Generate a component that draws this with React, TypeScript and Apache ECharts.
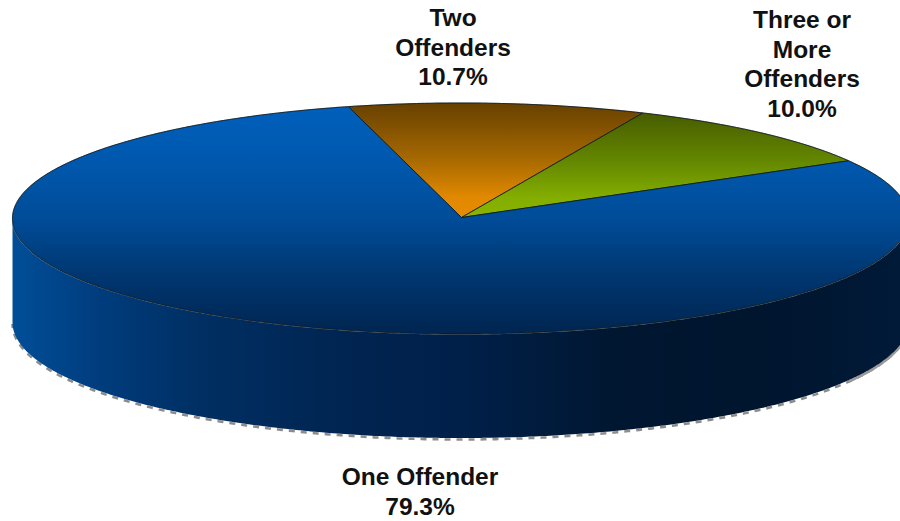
import React, { useEffect, useRef } from "react";
import * as echarts from "echarts";

const sliceNames = ["Two Offenders", "Three or More Offenders", "One Offender"];
const sliceValues = [10.7, 10.0, 79.3];
const labelLines = [["Two", "Offenders"], ["Three or", "More", "Offenders"], ["One Offender"]];

const CX = 460.5, CY = 218.5, RX = 448, RY = 115.5, DEPTH = 104;
const START_DEG = -14.5;

const labelAnchors = [
  { x: 453, y: 3 },
  { x: 802, y: 5 },
  { x: 420, y: 462 },
];

const vGrad = (y1: number, y2: number, stops: [number, string][]) => ({
  type: "linear", global: true, x: 0, y: y1, x2: 0, y2,
  colorStops: stops.map(([offset, color]) => ({ offset, color })),
});
const topFills = [
  vGrad(103, 217, [[0, "#674000"], [0.5, "#a86a00"], [0.82, "#e08800"], [1, "#e88c00"]]),
  vGrad(111, 217, [[0, "#465a00"], [0.5, "#668a00"], [0.82, "#84ae00"], [1, "#8ab400"]]),
  vGrad(103, 335, [[0, "#0060bc"], [0.25, "#0058ae"], [0.5, "#004c98"], [0.75, "#00366f"], [1, "#002550"]]),
];
const sideFill = {
  type: "linear", global: true, x: 13, y: 0, x2: 908, y2: 0,
  colorStops: [
    { offset: 0, color: "#004e98" },
    { offset: 0.1, color: "#003c7c" },
    { offset: 0.21, color: "#002f63" },
    { offset: 0.38, color: "#002450" },
    { offset: 0.5, color: "#00204a" },
    { offset: 0.67, color: "#001731" },
    { offset: 0.83, color: "#00152e" },
    { offset: 1, color: "#001a38" },
  ],
};

const pt = (deg: number, dy = 0): [number, number] => {
  const a = (deg * Math.PI) / 180;
  return [CX + RX * Math.sin(a), CY + dy - RY * Math.cos(a)];
};
const arcPts = (from: number, to: number, dy = 0) => {
  const out: [number, number][] = [];
  const n = Math.max(2, Math.ceil(Math.abs(to - from) * 2));
  for (let i = 0; i <= n; i++) out.push(pt(from + ((to - from) * i) / n, dy));
  return out;
};
const toPath = (pts: [number, number][], close = false) =>
  pts.map((p, i) => `${i ? "L" : "M"}${p[0].toFixed(2)} ${p[1].toFixed(2)}`).join(" ") + (close ? " Z" : "");

const renderItem = (params: any, api: any) => {
  const i = params.dataIndex;
  const total = sliceValues.reduce((s, v) => s + v, 0);
  const before = sliceValues.slice(0, i).reduce((s, v) => s + v, 0);
  const from = START_DEG + (before / total) * 360;
  const to = from + (api.value(0) / total) * 360;
  const children: any[] = [];

  const frontFrom = Math.max(from, 90);
  const frontTo = Math.min(to, 270);
  if (frontTo > frontFrom) {
    const bottom = arcPts(frontFrom, frontTo, DEPTH);
    children.push({
      type: "path",
      shape: { pathData: toPath(arcPts(frontFrom, frontTo, DEPTH + 1.5)) },
      style: { fill: "none", stroke: "#8c8c8c", lineWidth: 2.5, lineDash: [6, 6] },
    });
    children.push({
      type: "path",
      shape: { pathData: toPath(arcPts(frontFrom, frontFrom + 30, DEPTH + 1.5)) },
      style: { fill: "none", stroke: "#9a9a9a", lineWidth: 2.5 },
    });
    children.push({
      type: "path",
      shape: { pathData: toPath([...arcPts(frontTo, frontFrom), ...bottom], true) },
      style: { fill: sideFill, stroke: "none" },
    });
  }
  children.push({
    type: "path",
    shape: { pathData: toPath(arcPts(from, to), false) },
    style: { fill: "none", stroke: "#9a9a9a", lineWidth: 1.2 },
  });
  children.push({
    type: "path",
    shape: { pathData: toPath([[CX + 1, CY - 1], ...arcPts(from, to)], true) },
    style: { fill: topFills[i], stroke: "rgba(8,22,30,0.8)", lineWidth: 1 },
  });
  return { type: "group", children };
};

export default function App() {
  const ref = useRef<HTMLDivElement>(null);
  useEffect(() => {
    document.body.style.margin = "0";
    const chart = echarts.init(ref.current!, undefined, { renderer: "svg" });
    chart.setOption({
      animation: false,
      backgroundColor: "#ffffff",
      series: [
        {
          type: "custom",
          coordinateSystem: "none",
          silent: true,
          renderItem,
          data: sliceValues.map((value, k) => ({ name: sliceNames[k], value: [value] })),
        },
      ],
      graphic: labelLines.map((lines, k) => ({
        type: "text",
        x: labelAnchors[k].x,
        y: labelAnchors[k].y,
        z: 10,
        style: {
          text: [...lines, `${sliceValues[k].toFixed(1)}%`].join("\n"),
          fill: "#111111",
          font: 'bold 24.5px "Liberation Sans", Arial, sans-serif',
          textAlign: "center",
          lineHeight: 29.5,
        },
      })),
    });
    return () => chart.dispose();
  }, []);
  return <div ref={ref} style={{ width: 900, height: 521 }} />;
}
